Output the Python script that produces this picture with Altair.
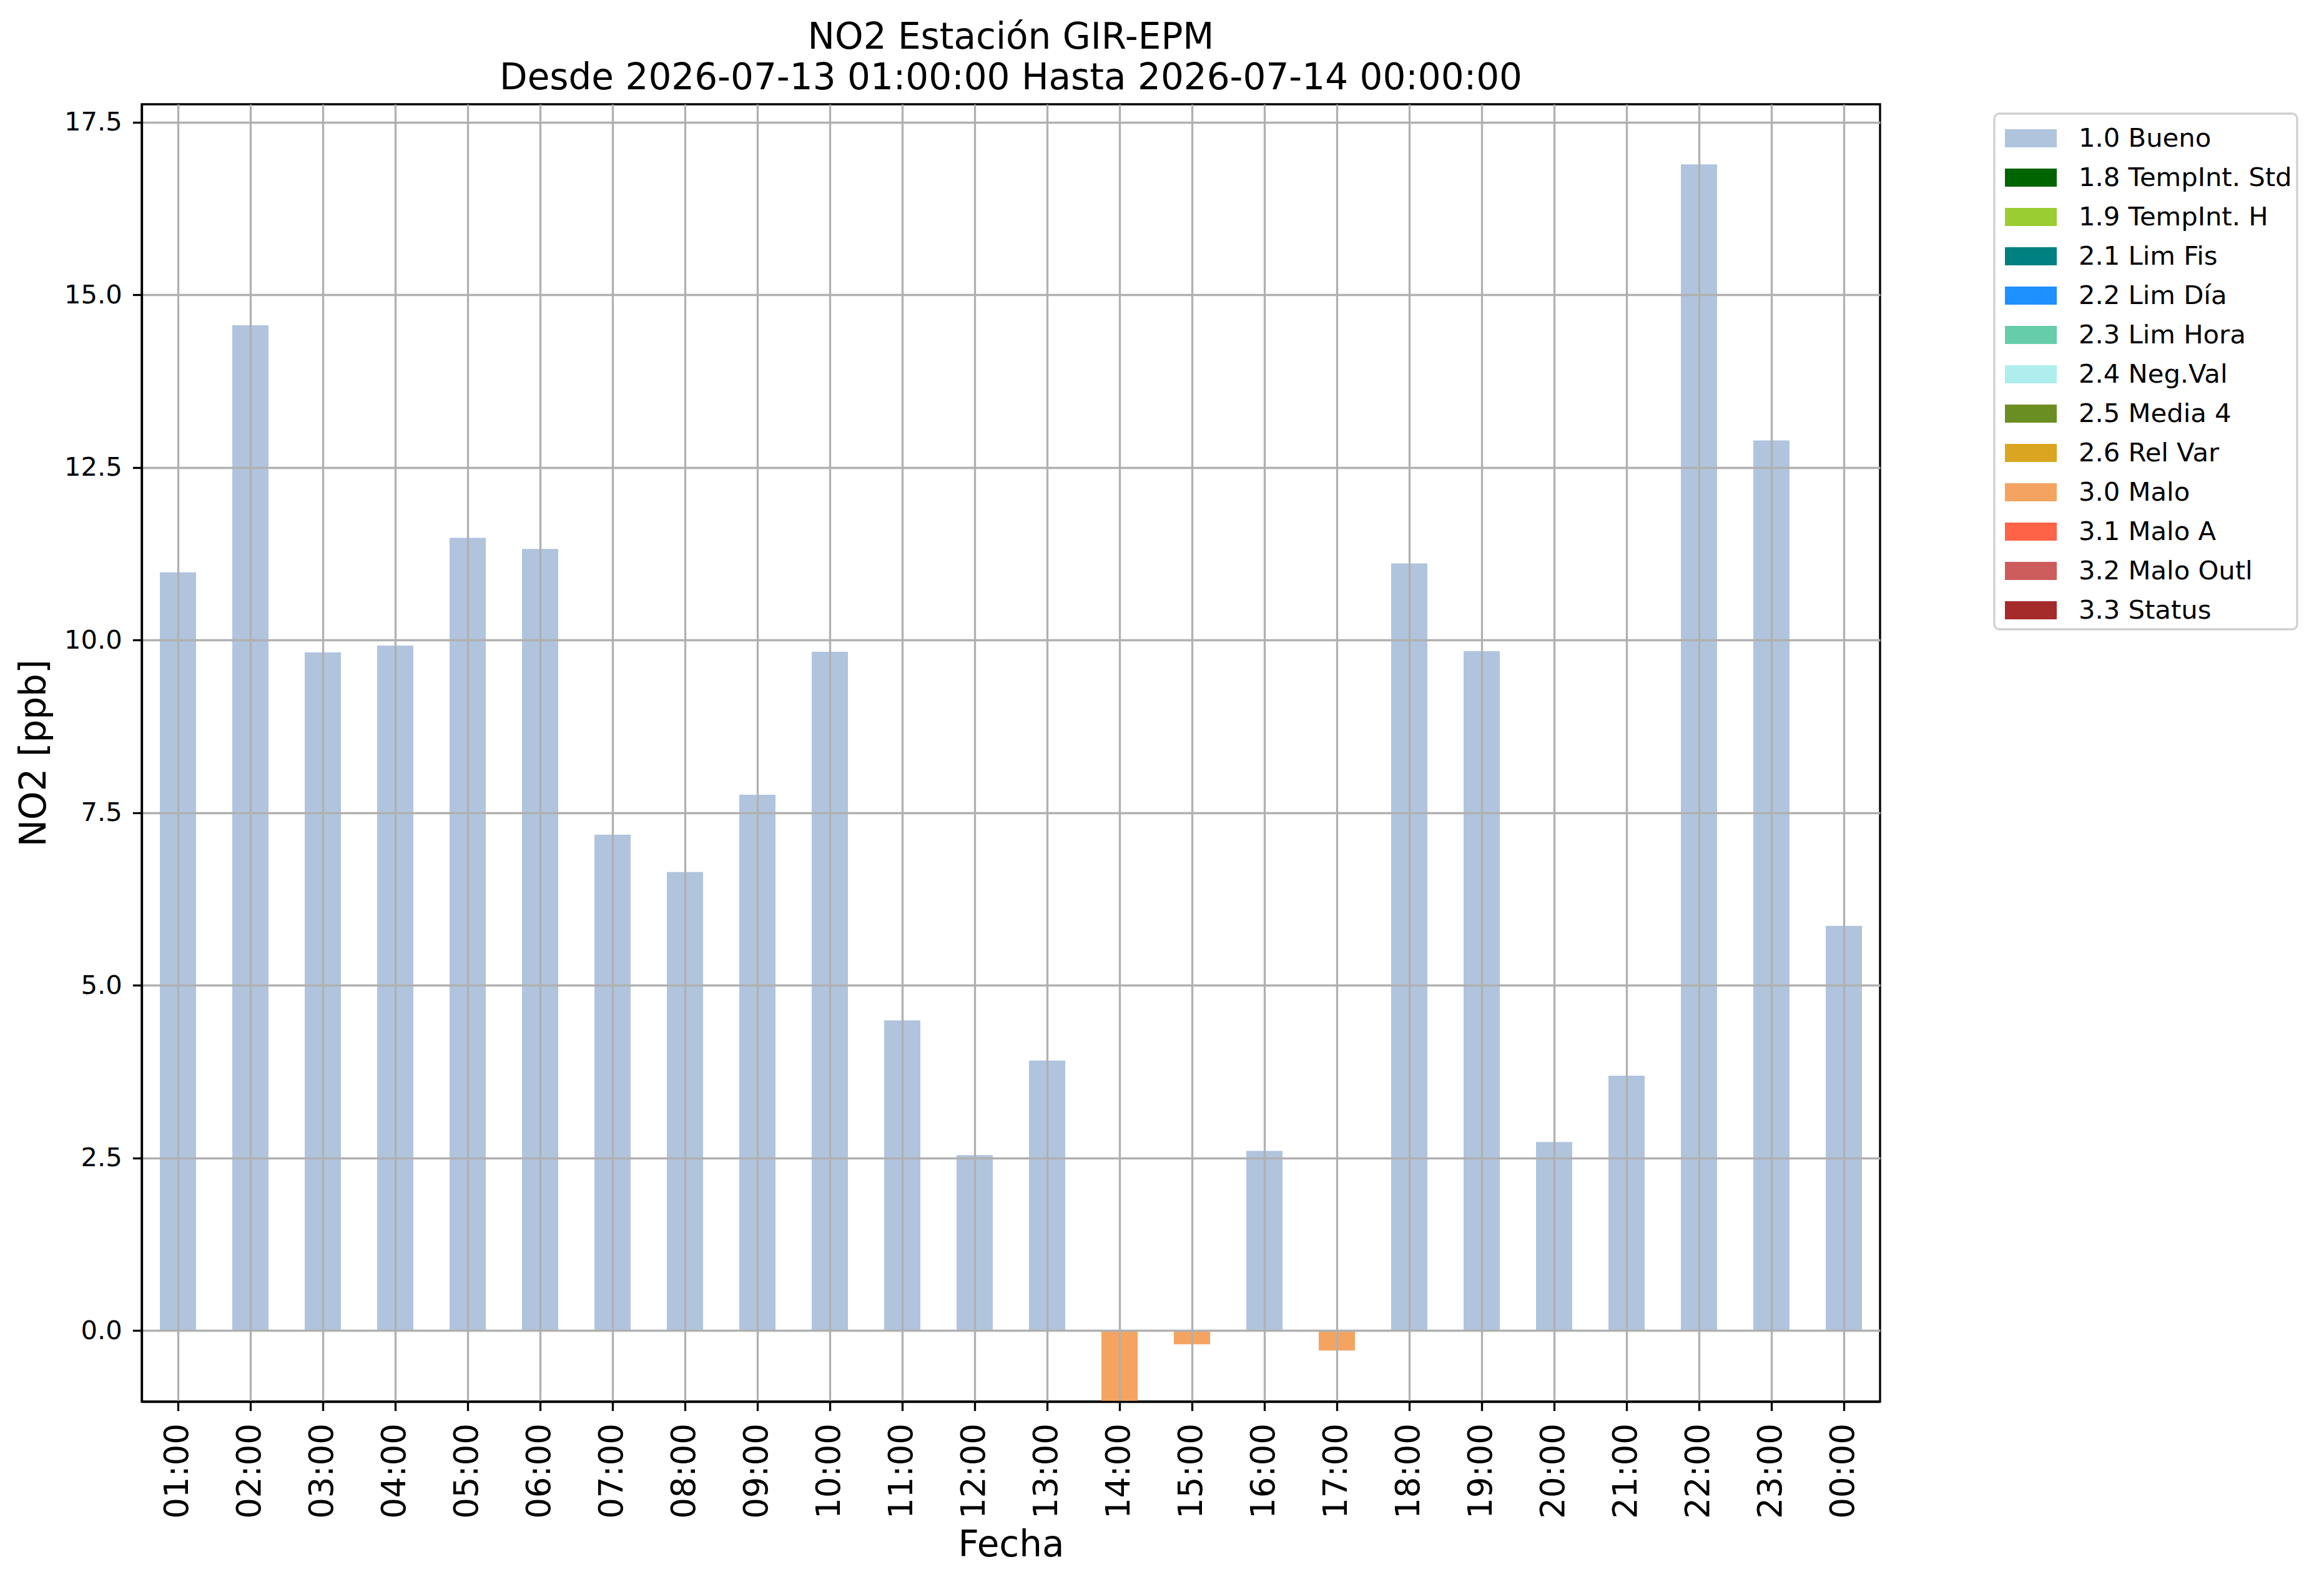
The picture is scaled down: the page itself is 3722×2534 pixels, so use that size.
import altair as alt
import pandas as pd

hours = ["01:00", "02:00", "03:00", "04:00", "05:00", "06:00", "07:00", "08:00",
         "09:00", "10:00", "11:00", "12:00", "13:00", "14:00", "15:00", "16:00",
         "17:00", "18:00", "19:00", "20:00", "21:00", "22:00", "23:00", "00:00"]
values = [10.98, 14.56, 9.82, 9.92, 11.48, 11.32, 7.18, 6.64,
          7.76, 9.83, 4.49, 2.54, 3.91, -1.20, -0.20, 2.60,
          -0.29, 11.11, 9.84, 2.73, 3.69, 16.89, 12.89, 5.86]
flags = ["1.0 Bueno"] * 13 + ["3.0 Malo", "3.0 Malo", "1.0 Bueno", "3.0 Malo"] + ["1.0 Bueno"] * 7

flag_names = ["1.0 Bueno", "1.8 TempInt. Std", "1.9 TempInt. H", "2.1 Lim Fis",
              "2.2 Lim Día", "2.3 Lim Hora", "2.4 Neg.Val", "2.5 Media 4",
              "2.6 Rel Var", "3.0 Malo", "3.1 Malo A", "3.2 Malo Outl", "3.3 Status"]
flag_colors = ["#B0C4DE", "#006400", "#9ACD32", "#008080", "#1E90FF", "#66CDAA",
               "#AFEEEE", "#6B8E23", "#DAA520", "#F4A460", "#FF6347", "#CD5C5C",
               "#A52A2A"]
y_ticks = [0.0, 2.5, 5.0, 7.5, 10.0, 12.5, 15.0, 17.5]

df = pd.DataFrame({"Fecha": hours, "NO2": values, "Flag": flags})

FONT = "DejaVu Sans"
W, H = 2784, 2078
PAD_L, PAD_T = 219, 159
PAD_R = 3706 - W - PAD_L
PAD_B = 2518 - H - PAD_T

chart = alt.Chart(df).mark_bar(clip=True).encode(
    x=alt.X("Fecha:N", sort=hours,
            scale=alt.Scale(paddingInner=0.5, paddingOuter=0.25),
            axis=alt.Axis(title="Fecha", labelAngle=270, labelFontSize=53,
                          labelPadding=20, titleFontSize=58, titlePadding=14,
                          grid=True, zindex=1)),
    y=alt.Y("NO2:Q", scale=alt.Scale(domain=[-1.03, 17.76], nice=False, zero=False),
            axis=alt.Axis(title="NO2 [ppb]", values=y_ticks, format=".1f",
                          labelFontSize=41.7, labelPadding=17, titleFontSize=58,
                          titlePadding=18, grid=True, zindex=1)),
    color=alt.Color("Flag:N",
                    scale=alt.Scale(domain=flag_names, range=flag_colors),
                    legend=alt.Legend(title=None, orient="none", legendX=2967, legendY=15,
                                      symbolType="M-1.326,-0.463L1.326,-0.463L1.326,0.463L-1.326,0.463Z",
                                      symbolSize=3919, symbolStrokeWidth=0, symbolOffset=19,
                                      labelFontSize=41.7, labelFont=FONT, labelOffset=45,
                                      labelColor="black", rowPadding=9,
                                      padding=8, strokeColor="#d0d0d0",
                                      cornerRadius=8, fillColor="white",
                                      labelLimit=1000)),
).properties(
    width=W, height=H,
    title=alt.TitleParams(
        text=["NO2 Estación GIR-EPM", "Desde 2026-07-13 01:00:00 Hasta 2026-07-14 00:00:00"],
        fontSize=58, font=FONT, fontWeight="normal", lineHeight=65,
        anchor="middle", offset=12, color="black"),
    autosize=alt.AutoSizeParams(type="none"),
    padding={"left": PAD_L, "top": PAD_T, "right": PAD_R, "bottom": PAD_B},
).configure_axis(
    labelFont=FONT, titleFont=FONT, labelColor="black", titleColor="black",
    titleFontWeight="normal", domainColor="black", domainWidth=3.3,
    tickColor="black", tickWidth=3.3, tickSize=14.6,
    gridColor="#b0b0b0", gridWidth=3.3,
).configure_view(
    stroke="black", strokeWidth=3.3
).configure_legend(
    strokeWidth=3.3
)

chart.save("out.html", embed_options={"renderer": "svg", "actions": False})
